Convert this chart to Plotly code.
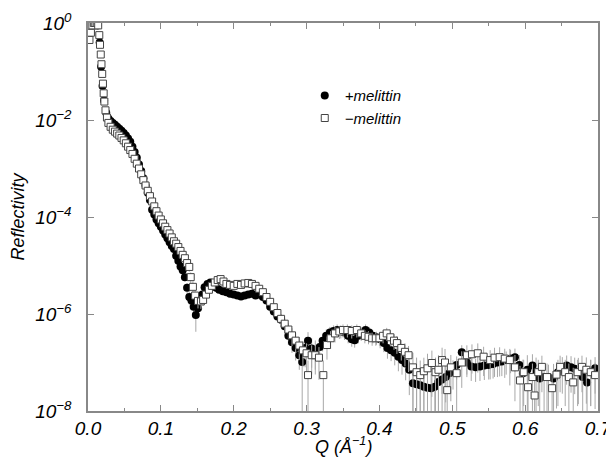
import plotly.graph_objects as go
import numpy as np

# --- Données (Q en Å^-1, log10 de la réflectivité, erreur relative) ---
q_plus = [
    0.004, 0.007, 0.010, 0.013, 0.016, 0.018, 0.020, 0.022, 0.025, 0.028,
    0.031, 0.034, 0.037, 0.040, 0.043, 0.046, 0.049, 0.052, 0.055, 0.058,
    0.061, 0.064, 0.067, 0.070, 0.073, 0.076, 0.079, 0.082, 0.085, 0.088,
    0.091, 0.094, 0.097, 0.100, 0.103, 0.106, 0.109, 0.112, 0.115, 0.118,
    0.121, 0.124, 0.127, 0.130, 0.133, 0.136, 0.139, 0.142, 0.145, 0.148,
    0.151, 0.154, 0.157, 0.160, 0.164, 0.168, 0.172, 0.176, 0.180, 0.185,
    0.190, 0.195, 0.200, 0.205, 0.210, 0.215, 0.220, 0.225, 0.230, 0.235,
    0.240, 0.245, 0.250, 0.255, 0.260, 0.265, 0.270, 0.275, 0.280, 0.285,
    0.290, 0.294, 0.298, 0.302, 0.307, 0.312, 0.318, 0.322, 0.327, 0.332,
    0.337, 0.342, 0.347, 0.352, 0.357, 0.362, 0.366, 0.371, 0.376, 0.381,
    0.386, 0.391, 0.396, 0.401, 0.406, 0.411, 0.416, 0.421, 0.426, 0.431,
    0.436, 0.441, 0.446, 0.451, 0.456, 0.461, 0.466, 0.471, 0.476, 0.481,
    0.486, 0.491, 0.496, 0.501, 0.506, 0.513, 0.520, 0.526, 0.532, 0.538,
    0.544, 0.550, 0.556, 0.562, 0.568, 0.574, 0.580, 0.586, 0.592, 0.597,
    0.603, 0.610, 0.615, 0.620, 0.626, 0.632, 0.639, 0.645, 0.651, 0.657,
    0.663, 0.668, 0.673, 0.679, 0.685, 0.690, 0.696,
]
logr_plus = [
    -0.20, -0.02, 0.00, -0.05, -0.40, -0.90, -1.30, -1.60, -1.85, -1.97,
    -2.02, -2.06, -2.10, -2.14, -2.18, -2.22, -2.27, -2.32, -2.38, -2.45,
    -2.55, -2.66, -2.78, -2.92, -3.05, -3.20, -3.35, -3.50, -3.65, -3.85,
    -3.95, -4.05, -4.13, -4.20, -4.28, -4.36, -4.44, -4.52, -4.60, -4.66,
    -4.80, -4.90, -5.02, -5.10, -5.24, -5.46, -5.65, -5.72, -5.85, -6.02,
    -5.88, -5.72, -5.60, -5.45, -5.38, -5.35, -5.40, -5.46, -5.50, -5.53,
    -5.55, -5.58, -5.60, -5.62, -5.64, -5.62, -5.60, -5.58, -5.62, -5.60,
    -5.65, -5.72, -5.85, -5.95, -6.05, -6.12, -6.25, -6.45, -6.58, -6.70,
    -6.85, -6.99, -6.70, -6.55, -6.71, -6.75, -6.68, -6.55, -6.45, -6.38,
    -6.35, -6.33, -6.35, -6.38, -6.45, -6.52, -6.54, -6.45, -6.38, -6.33,
    -6.38, -6.45, -6.48, -6.52, -6.60, -6.70, -6.75, -6.80, -6.88, -6.95,
    -7.02, -7.15, -7.43, -7.45, -7.47, -7.50, -7.52, -7.53, -7.50, -7.40,
    -7.35, -7.30, -7.22, -7.16, -7.05, -6.79, -7.00, -7.08, -7.10, -7.08,
    -7.06, -7.05, -7.03, -7.00, -6.98, -6.95, -6.92, -6.89, -7.05, -7.22,
    -7.15, -7.06, -7.20, -7.33, -7.30, -7.30, -7.33, -7.20, -7.12, -7.06,
    -7.10, -7.13, -7.16, -7.30, -7.41, -7.20, -7.12,
]
err_plus = [
    0.03, 0.03, 0.03, 0.03, 0.03, 0.03, 0.03, 0.03, 0.03, 0.03,
    0.03, 0.03, 0.03, 0.03, 0.03, 0.03, 0.03, 0.03, 0.03, 0.03,
    0.03, 0.03, 0.03, 0.03, 0.03, 0.03, 0.03, 0.03, 0.03, 0.03,
    0.05, 0.05, 0.05, 0.05, 0.05, 0.05, 0.05, 0.05, 0.05, 0.05,
    0.08, 0.10, 0.12, 0.15, 0.18, 0.25, 0.30, 0.30, 0.35, 0.55,
    0.35, 0.25, 0.20, 0.15, 0.12, 0.12, 0.12, 0.12, 0.12, 0.12,
    0.12, 0.12, 0.12, 0.12, 0.12, 0.12, 0.12, 0.12, 0.12, 0.12,
    0.15, 0.15, 0.18, 0.20, 0.22, 0.25, 0.30, 0.35, 0.40, 0.45,
    0.50, 0.97, 0.60, 0.50, 0.60, 0.60, 0.50, 0.40, 0.35, 0.30,
    0.30, 0.30, 0.30, 0.30, 0.30, 0.30, 0.30, 0.30, 0.30, 0.30,
    0.30, 0.30, 0.30, 0.35, 0.35, 0.40, 0.40, 0.45, 0.50, 0.50,
    0.55, 0.70, 1.00, 1.00, 1.00, 1.00, 0.90, 1.00, 1.00, 0.90,
    0.80, 0.70, 0.60, 0.60, 0.50, 0.40, 0.50, 0.50, 0.50, 0.50,
    0.50, 0.50, 0.50, 0.50, 0.50, 0.50, 0.50, 0.50, 0.60, 0.90,
    1.00, 0.70, 1.00, 1.00, 0.90, 0.80, 1.00, 0.80, 0.70, 0.60,
    0.70, 0.70, 0.80, 0.90, 1.00, 0.80, 0.70,
]

q_minus = [
    0.002, 0.004, 0.006, 0.008, 0.010, 0.012, 0.014, 0.0155, 0.0165, 0.0175,
    0.0185, 0.0195, 0.0205, 0.0215, 0.0225, 0.024, 0.026, 0.028, 0.031, 0.034,
    0.037, 0.040, 0.043, 0.046, 0.049, 0.052, 0.055, 0.058, 0.061, 0.064,
    0.067, 0.070, 0.073, 0.076, 0.079, 0.082, 0.085, 0.088, 0.091, 0.094,
    0.097, 0.100, 0.103, 0.106, 0.109, 0.112, 0.115, 0.118, 0.121, 0.124,
    0.127, 0.130, 0.133, 0.136, 0.139, 0.141, 0.144, 0.147, 0.151, 0.155,
    0.158, 0.162, 0.166, 0.170, 0.174, 0.178, 0.182, 0.186, 0.190, 0.195,
    0.200, 0.205, 0.210, 0.215, 0.220, 0.225, 0.230, 0.235, 0.240, 0.245,
    0.250, 0.255, 0.260, 0.265, 0.270, 0.275, 0.280, 0.285, 0.290, 0.295,
    0.300, 0.302, 0.307, 0.312, 0.317, 0.323, 0.328, 0.333, 0.339, 0.345,
    0.350, 0.356, 0.362, 0.369, 0.375, 0.380, 0.385, 0.390, 0.395, 0.400,
    0.405, 0.410, 0.415, 0.420, 0.424, 0.430, 0.435, 0.440, 0.446, 0.451,
    0.456, 0.461, 0.466, 0.472, 0.477, 0.481, 0.486, 0.490, 0.493, 0.498,
    0.506, 0.513, 0.520, 0.527, 0.535, 0.543, 0.552, 0.558, 0.565, 0.572,
    0.579, 0.586, 0.593, 0.598, 0.604, 0.610, 0.613, 0.618, 0.623, 0.630,
    0.637, 0.643, 0.648, 0.655, 0.660, 0.666, 0.672, 0.678, 0.684, 0.690,
    0.696,
]
logr_minus = [
    -0.35, -0.20, -0.05, 0.00, 0.00, 0.00, -0.05, -0.25, -0.45, -0.65,
    -0.85, -1.05, -1.25, -1.45, -1.62, -1.80, -1.95, -2.06, -2.14, -2.20,
    -2.24, -2.28, -2.32, -2.37, -2.42, -2.48, -2.55, -2.62, -2.70, -2.80,
    -2.90, -3.00, -3.12, -3.24, -3.35, -3.46, -3.57, -3.68, -3.78, -3.88,
    -3.97, -4.05, -4.13, -4.20, -4.27, -4.34, -4.42, -4.50, -4.55, -4.62,
    -4.70, -4.78, -4.85, -4.95, -5.03, -5.24, -5.44, -5.62, -5.73, -5.74,
    -5.71, -5.60, -5.50, -5.42, -5.35, -5.30, -5.28, -5.33, -5.38, -5.40,
    -5.42, -5.38, -5.40, -5.37, -5.36, -5.38, -5.42, -5.48, -5.55, -5.65,
    -5.75, -5.86, -5.98, -6.10, -6.20, -6.32, -6.44, -6.55, -6.65, -6.75,
    -6.81, -7.26, -6.85, -6.85, -6.90, -7.26, -6.64, -6.50, -6.40, -6.36,
    -6.33, -6.33, -6.35, -6.33, -6.40, -6.45, -6.47, -6.50, -6.50, -6.50,
    -6.45, -6.40, -6.48, -6.55, -6.60, -6.70, -6.78, -6.85, -7.10, -7.20,
    -7.26, -7.18, -7.12, -7.01, -7.20, -7.15, -6.95, -7.00, -7.57, -7.10,
    -7.22, -7.00, -6.85, -6.83, -6.81, -6.88, -6.95, -6.90, -6.89, -6.92,
    -6.95, -7.10, -7.37, -7.20, -7.51, -7.30, -7.68, -7.20, -7.09, -7.30,
    -7.53, -7.25, -7.09, -7.20, -7.30, -7.41, -7.20, -7.09, -7.15, -7.20,
    -7.26,
]
err_minus = [
    0.03, 0.03, 0.03, 0.03, 0.03, 0.03, 0.03, 0.03, 0.03, 0.03,
    0.03, 0.03, 0.03, 0.03, 0.03, 0.03, 0.03, 0.03, 0.03, 0.03,
    0.03, 0.03, 0.03, 0.03, 0.03, 0.03, 0.03, 0.03, 0.03, 0.03,
    0.03, 0.03, 0.03, 0.03, 0.03, 0.03, 0.03, 0.03, 0.03, 0.03,
    0.05, 0.05, 0.05, 0.05, 0.05, 0.05, 0.05, 0.05, 0.05, 0.05,
    0.08, 0.10, 0.12, 0.15, 0.20, 0.25, 0.30, 0.30, 0.30, 0.30,
    0.25, 0.20, 0.15, 0.12, 0.12, 0.12, 0.12, 0.12, 0.12, 0.12,
    0.12, 0.12, 0.12, 0.12, 0.12, 0.12, 0.12, 0.12, 0.15, 0.15,
    0.18, 0.20, 0.22, 0.25, 0.30, 0.35, 0.40, 0.45, 0.50, 0.55,
    0.60, 1.00, 0.60, 0.60, 0.65, 1.00, 0.50, 0.40, 0.35, 0.30,
    0.30, 0.30, 0.30, 0.30, 0.30, 0.30, 0.30, 0.30, 0.30, 0.30,
    0.30, 0.30, 0.35, 0.35, 0.40, 0.45, 0.50, 0.55, 1.00, 1.00,
    1.00, 0.90, 1.00, 0.80, 1.00, 1.00, 0.80, 0.90, 1.00, 0.80,
    0.90, 0.70, 0.60, 0.60, 0.60, 0.60, 0.60, 0.60, 0.60, 0.60,
    0.70, 0.80, 1.00, 0.80, 1.00, 0.90, 1.00, 0.80, 0.70, 0.90,
    1.00, 0.80, 0.70, 0.80, 0.90, 1.00, 0.80, 0.70, 0.80, 0.80,
    0.80,
]

y_tickvals = [1, 1e-2, 1e-4, 1e-6, 1e-8]
y_ticktext = ["10<sup>0</sup>", "10<sup>−2</sup>", "10<sup>−4</sup>",
              "10<sup>−6</sup>", "10<sup>−8</sup>"]


def barres(logr, err):
    # barres d'erreur symétriques en linéaire, coupées avant zéro pour l'axe log
    r = 10 ** np.array(logr)
    e = np.array(err)
    return r, r * e, r * np.minimum(e, 0.999)


r_p, up_p, dn_p = barres(logr_plus, err_plus)
r_m, up_m, dn_m = barres(logr_minus, err_minus)

police = dict(family="Liberation Sans, Arial, sans-serif", color="black", style="italic")

fig = go.Figure()
fig.add_trace(go.Scatter(
    x=q_plus, y=r_p, mode="markers", name="+melittin",
    marker=dict(symbol="circle", size=8, color="black", line=dict(width=0)),
    error_y=dict(type="data", symmetric=False, array=up_p, arrayminus=dn_p,
                 color="#a8a8a8", thickness=1, width=0),
))
fig.add_trace(go.Scatter(
    x=q_minus, y=r_m, mode="markers", name="−melittin",
    marker=dict(symbol="square", size=7, color="white", line=dict(width=1, color="#444")),
    error_y=dict(type="data", symmetric=False, array=up_m, arrayminus=dn_m,
                 color="#a8a8a8", thickness=1, width=0),
))

# la page ajoute une marge de 8 px autour du graphique
fig.update_layout(
    width=606, height=452,
    margin=dict(l=80, r=16, t=15, b=49, autoexpand=False),
    paper_bgcolor="white", plot_bgcolor="white",
    font=police,
    showlegend=True,
    legend=dict(x=0.425, y=0.855, xanchor="left", yanchor="top",
                font=dict(size=15, **police), bgcolor="rgba(0,0,0,0)",
                tracegroupgap=0),
    xaxis=dict(
        range=[0, 0.7], dtick=0.1, tickformat=".1f", automargin=False,
        ticks="inside", ticklen=6, tickcolor="#888", tickwidth=1,
        minor=dict(dtick=0.05, ticks="inside", ticklen=3, tickcolor="#888"),
        showline=True, linecolor="#888", linewidth=1.5, mirror="ticks",
        showgrid=False, zeroline=False,
        tickfont=dict(size=19, **police), ticklabelstandoff=-1,
    ),
    yaxis=dict(
        type="log", range=[-8, 0], automargin=False,
        tickvals=y_tickvals, ticktext=y_ticktext,
        ticks="inside", ticklen=6, tickcolor="#888", tickwidth=1,
        showline=True, linecolor="#888", linewidth=1.5, mirror="ticks",
        showgrid=False, zeroline=False,
        tickfont=dict(size=19, **police), ticklabelstandoff=11,
        title=dict(text="Reflectivity", font=dict(size=18, **police), standoff=9),
    ),
    annotations=[dict(
        text="Q (Å<sup>−1</sup>)", xref="paper", yref="paper",
        x=0.5, y=-0.09, xanchor="center", yanchor="middle",
        showarrow=False, font=dict(size=18, **police),
    )],
)

fig.write_html("out.html")
